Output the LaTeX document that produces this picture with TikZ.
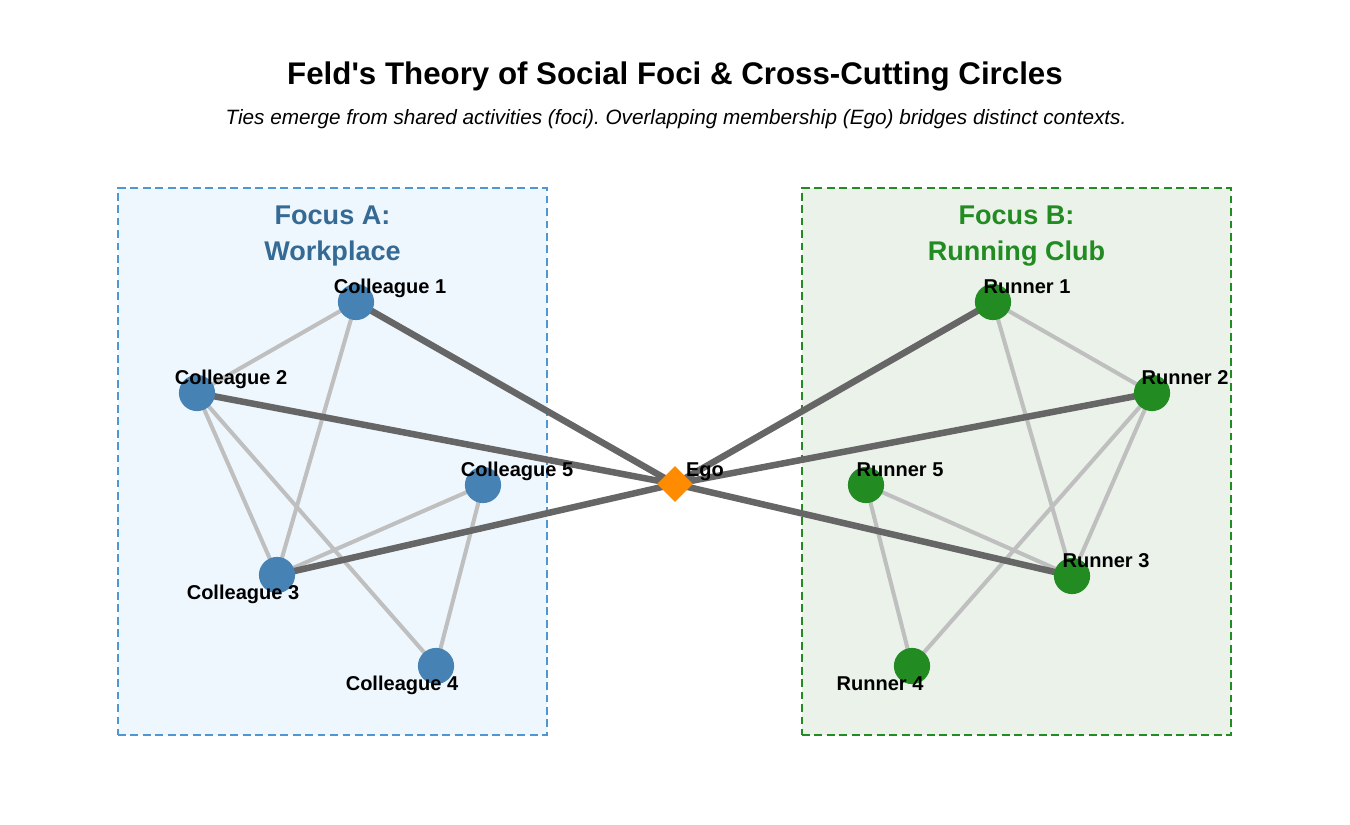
\documentclass[tikz,border=0pt]{standalone}
\usepackage{fontspec}
\setmainfont{Liberation Sans}
\usetikzlibrary{shapes.geometric,backgrounds}
\frenchspacing
\definecolor{nodeblue}{HTML}{4682B4}
\definecolor{nodegreen}{HTML}{228B22}
\definecolor{egoorange}{HTML}{FF8C00}
\definecolor{boxAfill}{HTML}{EFF7FE}
\definecolor{boxAedge}{HTML}{5096D2}
\definecolor{boxBfill}{HTML}{EAF2EA}
\definecolor{boxBedge}{HTML}{228B22}
\definecolor{focusAtext}{HTML}{356A94}
\definecolor{strongtie}{HTML}{666666}
\definecolor{weaktie}{HTML}{BFBFBF}
\tikzset{
  member/.style={circle, minimum size=20.6pt, inner sep=0pt, draw=none},
  colleague/.style={member, fill=nodeblue},
  runner/.style={member, fill=nodegreen},
  egonode/.style={diamond, minimum size=20.6pt, inner sep=0pt, fill=egoorange},
  lbl/.style={anchor=base, font=\fontsize{11.4pt}{13pt}\selectfont\bfseries, inner sep=0pt},
  weak/.style={draw=weaktie, line width=2.3pt},
  strong/.style={draw=strongtie, line width=3.7pt},
  focusbox/.style={line width=1.1pt, dash pattern=on 4.5pt off 2.6pt},
  focuslbl/.style={anchor=base, font=\fontsize{15.4pt}{18pt}\selectfont\bfseries, inner sep=0pt}
}
\begin{document}
\begin{tikzpicture}[x=0.02cm, y=-0.02cm]
\useasboundingbox (0,0) rectangle (1350,825);
% title
\node[anchor=base, inner sep=0pt, font=\fontsize{17.8pt}{20pt}\selectfont\bfseries] (title) at (675,84) {Feld\textquotesingle s Theory of Social Foci \& Cross-Cutting Circles};
\node[anchor=base, inner sep=0pt, font=\fontsize{11.8pt}{14pt}\selectfont\itshape] (subtitle) at (676,124) {Ties emerge from shared activities (foci). Overlapping membership (Ego) bridges distinct contexts.};
% focus labels
\node[focuslbl, text=focusAtext] (fa1) at (332.5,224) {Focus A:};
\node[focuslbl, text=focusAtext] (fa2) at (332.5,260) {Workplace};
\node[focuslbl, text=boxBedge] (fb1) at (1016.5,224) {Focus B:};
\node[focuslbl, text=boxBedge] (fb2) at (1016.5,260) {Running Club};
% nodes
\node[colleague] (c1) at (356,302) {};
\node[colleague] (c2) at (197,393) {};
\node[colleague] (c3) at (277,575) {};
\node[colleague] (c4) at (436,666) {};
\node[colleague] (c5) at (483,485) {};
\node[runner] (r1) at (993,302) {};
\node[runner] (r2) at (1152,393) {};
\node[runner] (r3) at (1072,576) {};
\node[runner] (r4) at (912,666) {};
\node[runner] (r5) at (866,485) {};
\node[egonode] (ego) at (675,484) {};
% labels
\node[lbl] (lc1) at (390,293) {Colleague 1};
\node[lbl] (lc2) at (231,384) {Colleague 2};
\node[lbl] (lc5) at (517,476) {Colleague 5};
\node[lbl] (lc3) at (243,599) {Colleague 3};
\node[lbl] (lc4) at (402,690) {Colleague 4};
\node[lbl] (lr1) at (1027,293) {Runner 1};
\node[lbl] (lr2) at (1185,384) {Runner 2};
\node[lbl] (lr5) at (900,476) {Runner 5};
\node[lbl] (lr3) at (1106,567) {Runner 3};
\node[lbl] (lr4) at (880,690) {Runner 4};
\node[lbl] (lego) at (705,476) {Ego};
\begin{pgfonlayer}{background}
  \node[focusbox, draw=boxAedge, fill=boxAfill, rectangle, inner sep=0pt, minimum width=429*0.02cm, minimum height=547*0.02cm] (boxA) at (332.5,461.5) {};
  \node[focusbox, draw=boxBedge, fill=boxBfill, rectangle, inner sep=0pt, minimum width=429*0.02cm, minimum height=547*0.02cm] (boxB) at (1016.5,461.5) {};
  % weak ties
  \draw[weak] (c1.center) -- (c2.center);
  \draw[weak] (c1.center) -- (c3.center);
  \draw[weak] (c2.center) -- (c3.center);
  \draw[weak] (c2.center) -- (c4.center);
  \draw[weak] (c3.center) -- (c5.center);
  \draw[weak] (c5.center) -- (c4.center);
  \draw[weak] (r1.center) -- (r2.center);
  \draw[weak] (r1.center) -- (r3.center);
  \draw[weak] (r2.center) -- (r3.center);
  \draw[weak] (r2.center) -- (r4.center);
  \draw[weak] (r5.center) -- (r3.center);
  \draw[weak] (r5.center) -- (r4.center);
  % bridging ties
  \draw[strong] (ego.center) -- (c1.center);
  \draw[strong] (ego.center) -- (c2.center);
  \draw[strong] (ego.center) -- (c3.center);
  \draw[strong] (ego.center) -- (r1.center);
  \draw[strong] (ego.center) -- (r2.center);
  \draw[strong] (ego.center) -- (r3.center);
\end{pgfonlayer}
\end{tikzpicture}
\end{document}
